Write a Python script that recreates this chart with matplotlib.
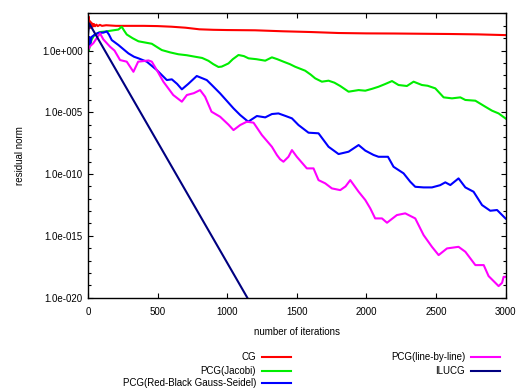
import numpy as np
import matplotlib
matplotlib.use('Agg')
import matplotlib.pyplot as plt
from matplotlib.lines import Line2D
from matplotlib.ticker import FixedLocator, FuncFormatter

plt.rcParams['font.family'] = ['Liberation Sans', 'DejaVu Sans']
plt.rcParams['font.size'] = 7

# residual norms, stored as log10 values
cg_it = [0, 4, 8, 12, 16, 20, 25, 30, 36, 42, 50, 60, 70, 85, 100, 130, 200, 300, 400, 500,
         600, 700, 800, 900, 1000, 1200, 1400, 1600, 1800, 2000, 2200, 2400, 2600, 2800, 3000]
cg_log = [2.3, 2.75, 1.8, 2.4, 1.85, 2.3, 1.9, 2.2, 1.95, 2.15, 1.97, 2.1, 1.98, 2.08, 2.0, 2.05, 2.0, 2.0, 2.0, 1.98,
          1.93, 1.85, 1.72, 1.68, 1.66, 1.64, 1.56, 1.5, 1.42, 1.39, 1.38, 1.36, 1.34, 1.31, 1.25]

jac_it = [0, 5, 12, 26, 45, 86, 130, 170, 218, 242, 260, 278, 320, 362, 410, 458, 500, 530, 590, 649,
          710, 769, 820, 865, 900, 937, 960, 985, 1009, 1040, 1081, 1120, 1153, 1210, 1273, 1321, 1360,
          1404, 1450, 1488, 1560, 1600, 1632, 1680, 1728, 1770, 1812, 1872, 1944, 1992, 2040, 2087, 2135,
          2184, 2231, 2291, 2339, 2399, 2440, 2495, 2555, 2615, 2675, 2711, 2783, 2855, 2903, 2950, 3000]
jac_log = [0.55, 0.0, 0.3, 0.9, 1.25, 1.5, 1.55, 1.62, 1.7, 1.93, 1.6, 1.3, 1.0, 0.75, 0.65, 0.55, 0.25, 0.04, -0.15, -0.3,
           -0.38, -0.5, -0.6, -0.83, -1.1, -1.33, -1.3, -1.17, -1.04, -0.7, -0.36, -0.45, -0.63, -0.7, -0.82, -0.55, -0.7,
           -0.9, -1.1, -1.31, -1.63, -1.95, -2.25, -2.52, -2.44, -2.6, -2.87, -3.33, -3.2, -3.25, -3.1, -2.93, -2.71,
           -2.47, -2.79, -2.87, -2.52, -2.79, -2.85, -3.06, -3.79, -3.87, -3.79, -4.0, -4.06, -4.55, -4.87, -5.09, -5.5]

rbgs_it = [0, 5, 10, 15, 25, 50, 74, 110, 134, 150, 170, 218, 255, 290, 330, 362, 422, 494, 566, 602,
           640, 674, 720, 781, 853, 890, 949, 1045, 1093, 1151, 1213, 1273, 1321, 1368, 1420, 1465, 1512,
           1584, 1656, 1728, 1800, 1872, 1944, 1992, 2051, 2087, 2155, 2195, 2267, 2315, 2351, 2411, 2471,
           2530, 2567, 2603, 2662, 2711, 2770, 2831, 2890, 2939, 3000]
rbgs_log = [0.0, 0.6, 1.1, 0.5, 1.1, 1.3, 1.44, 1.45, 1.55, 1.3, 0.85, 0.45, 0.1, -0.23, -0.5, -0.63, -0.9, -1.58, -2.39, -2.33,
            -2.7, -3.14, -2.7, -2.06, -2.39, -2.8, -3.47, -4.68, -5.22, -5.76, -5.3, -5.41, -5.14, -5.09, -5.3, -5.49, -6.03,
            -6.65, -6.7, -7.79, -8.38, -8.19, -7.65, -8.1, -8.45, -8.6, -8.6, -9.41, -9.94, -10.62, -11.03, -11.08, -11.08,
            -10.9, -10.67, -10.89, -10.35, -11.08, -11.43, -12.51, -12.97, -12.91, -13.6]

lbl_it = [0, 10, 38, 86, 110, 158, 190, 230, 278, 326, 360, 400, 434, 458, 494, 541, 612, 674, 710, 760,
          805, 841, 887, 949, 1009, 1045, 1093, 1141, 1189, 1249, 1321, 1357, 1380, 1404, 1440, 1465, 1500,
          1572, 1620, 1656, 1704, 1752, 1812, 1850, 1884, 1944, 1992, 2028, 2063, 2112, 2148, 2219, 2279,
          2351, 2411, 2471, 2519, 2579, 2662, 2711, 2783, 2843, 2878, 2950, 2975, 2986, 3000]
lbl_log = [0.04, 0.3, 0.6, 1.39, 0.9, 0.31, 0.0, -0.77, -0.9, -1.72, -0.9, -0.85, -0.8, -0.9, -1.58, -2.52, -3.6, -4.14, -3.6, -3.45,
           -3.2, -3.74, -4.95, -5.36, -6.0, -6.44, -6.03, -5.76, -5.84, -6.84, -7.79, -8.46, -8.8, -9.0, -8.6, -8.06, -8.6,
           -9.54, -9.54, -10.49, -10.75, -11.16, -11.3, -11.0, -10.49, -11.43, -12.1, -12.78, -13.59, -13.59, -13.94, -13.32, -13.18,
           -13.59, -14.94, -15.89, -16.56, -16.02, -15.89, -16.29, -17.37, -17.37, -18.26, -19.07, -18.8, -18.32, -18.32]

ilu_it = [0, 8, 1200]
ilu_log = [1.3, 2.2, -21.1]

series = [
    ('CG', cg_it, cg_log, '#ff0000'),
    ('PCG(Jacobi)', jac_it, jac_log, '#00ee00'),
    ('PCG(Red-Black Gauss-Seidel)', rbgs_it, rbgs_log, '#0000ff'),
    ('PCG(line-by-line)', lbl_it, lbl_log, '#ff00ff'),
    ('ILUCG', ilu_it, ilu_log, '#000080'),
]

fig = plt.figure(figsize=(5.18, 3.89), dpi=100)
ax = fig.add_axes([0.17, 0.235, 0.806, 0.7303])

for name, it, lg, col in series:
    ax.plot(it, np.power(10.0, lg), color=col, lw=1.5, solid_joinstyle='round')

ax.set_yscale('log')
ax.set_xlim(0, 3000)
ax.set_ylim(1e-20, 1e3)
ax.set_xticks(np.arange(0, 3001, 500))
ax.yaxis.set_major_locator(FixedLocator([10.0 ** e for e in range(-20, 1, 5)]))
ax.yaxis.set_minor_locator(FixedLocator([10.0 ** e for e in range(-20, 4)]))


def fmt(v, pos):
    e = int(round(np.log10(v)))
    return '1.0e%s%03d' % ('+' if e >= 0 else '-', abs(e))


ax.yaxis.set_major_formatter(FuncFormatter(fmt))
ax.yaxis.set_minor_formatter(FuncFormatter(lambda v, p: ''))
ax.tick_params(which='both', direction='in', top=True, right=True, width=0.8)
ax.tick_params(which='major', length=3.5)
ax.tick_params(which='minor', length=2)
ax.tick_params(axis='x', pad=7)
ax.tick_params(axis='y', pad=4)
for s in ax.spines.values():
    s.set_linewidth(1.0)

ax.set_xlabel('number of iterations')
ax.set_ylabel('residual norm')
ax.xaxis.set_label_coords(0.5, -0.122)
ax.yaxis.set_label_coords(-0.163, 0.5)
ax.xaxis.label.set_va('center')
ax.yaxis.label.set_va('center')

# legend below the plot: text right-aligned, sample line on its right
text_right = [256, 465]
rows_y = [357.3, 370.7, 383.3]
slots = [(0, 0), (0, 1), (0, 2), (1, 0), (1, 1)]
W, H = 518.0, 389.0
for (name, it, lg, col), (c, r) in zip(series, slots):
    y = 1 - rows_y[r] / H
    fig.text(text_right[c] / W, y, name, ha='right', va='center')
    x0 = (text_right[c] + 6) / W
    x1 = (text_right[c] + 35) / W
    fig.add_artist(Line2D([x0, x1], [y, y], color=col, lw=1.5, transform=fig.transFigure))

fig.savefig('out.png', dpi=100)
